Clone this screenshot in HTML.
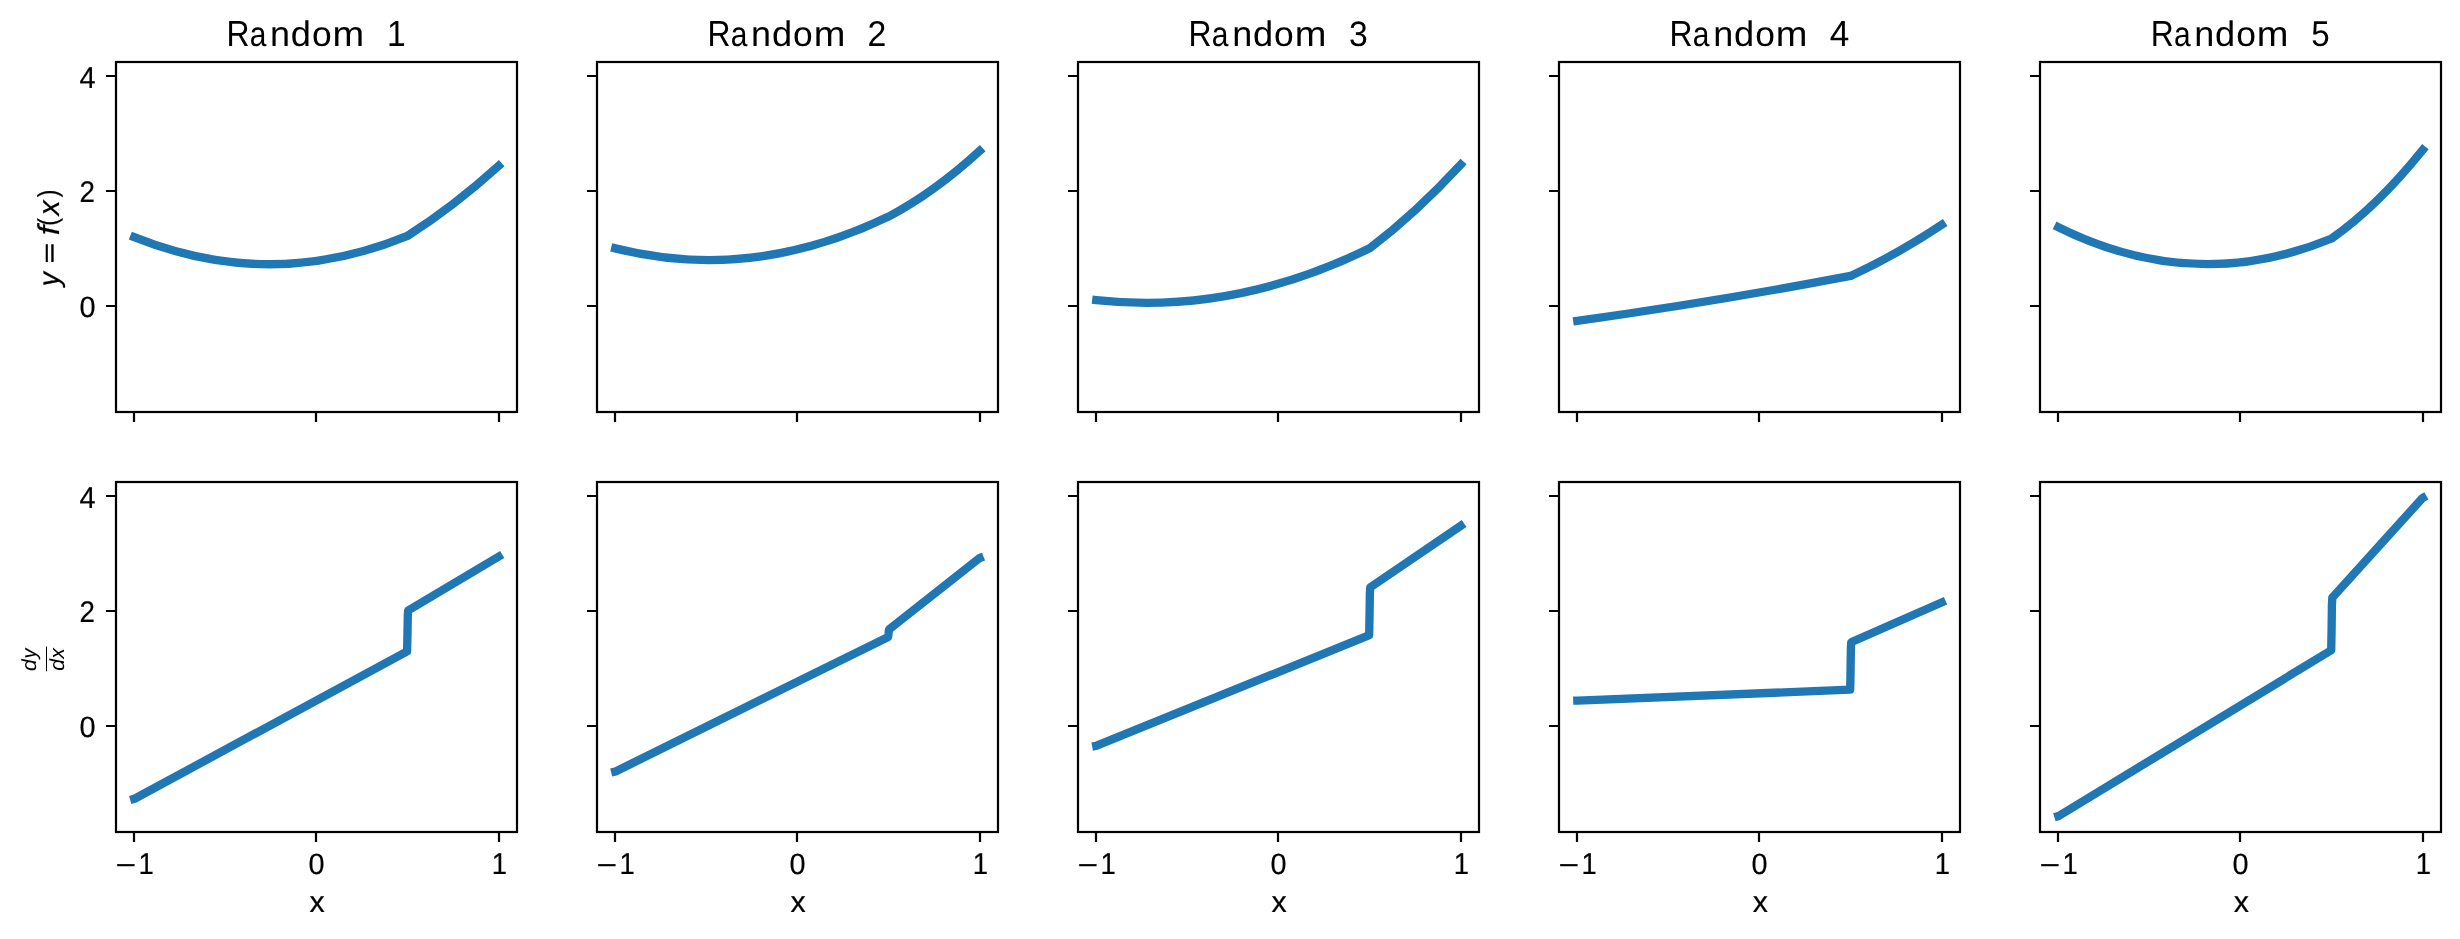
<!DOCTYPE html>
<html lang="en"><head><meta charset="utf-8"><title>Random piecewise functions and derivatives</title>
<style>html,body{margin:0;padding:0;background:#fff}svg{display:block;will-change:transform}text{font-family:"Liberation Sans",sans-serif;fill:#000;font-kerning:none;text-rendering:geometricPrecision;white-space:pre}.i{font-style:italic}.s{stroke:#000;stroke-width:.2px}.sp{fill:none;stroke:#000;stroke-width:2.222}.tk{stroke:#000;stroke-width:2.222;fill:none}.ln{fill:none;stroke:#1f77b4;stroke-width:8.333;stroke-linecap:square;stroke-linejoin:round}</style></head><body>
<svg width="2460" height="939" viewBox="0 0 2460 939">
<rect width="2460" height="939" fill="#fff"/>
<path class="ln" d="M134.21 237.16 Q270.86 291.94 407.52 235.86 Q453.07 207.1 498.63 165.9"/>
<path class="ln" d="M134.21 798.85 L134.57 798.75 L406.7 651.56 L407.07 651.36 L407.43 636.06 L407.8 615.72 L408.16 610.47 L408.53 610.25 L498.63 556.6"/>
<path class="ln" d="M615.24 248.37 Q751.9 282.67 888.56 216.61 Q934.11 192.59 979.66 150.89"/>
<path class="ln" d="M615.24 771.53 L615.61 771.44 L887.74 637.14 L888.1 636.96 L888.47 634.18 L888.83 630.48 L889.19 629.33 L889.56 629.04 L979.3 558.22 L979.66 558.08"/>
<path class="ln" d="M1096.28 300.14 Q1232.93 315.11 1369.59 248.33 Q1415.14 213.82 1460.7 164.55"/>
<path class="ln" d="M1096.28 745.78 L1096.64 745.71 L1368.77 635.34 L1369.14 635.2 L1369.5 617.35 L1369.86 593.55 L1370.23 587.41 L1370.59 587.16 L1460.7 525.84"/>
<path class="ln" d="M1577.31 320.85 Q1713.97 301.87 1850.63 275.95 Q1896.18 255.1 1941.73 224.83"/>
<path class="ln" d="M1577.31 700.58 L1577.68 700.57 L1849.8 689.69 L1850.17 689.67 L1850.53 671.95 L1850.9 648.26 L1851.26 642.21 L1851.63 642.05 L1941.73 602.48"/>
<path class="ln" d="M2058.35 227.2 Q2195 294.94 2331.66 238.51 Q2377.21 206.63 2422.76 149.93"/>
<path class="ln" d="M2058.35 816.09 L2058.71 815.98 L2330.84 650.47 L2331.2 650.24 L2331.57 630.65 L2331.93 604.51 L2332.3 597.66 L2332.66 597.26 L2422.4 498.11 L2422.76 497.91"/>
<path class="tk" d="M134 412v10M316 412v10M499 412v10M116 76h-10M116 191h-10M116 306h-10"/>
<rect class="sp" x="116" y="62" width="401" height="350"/>
<path class="tk" d="M615 412v10M797 412v10M980 412v10M597 76h-10M597 191h-10M597 306h-10"/>
<rect class="sp" x="597" y="62" width="401" height="350"/>
<path class="tk" d="M1096 412v10M1278 412v10M1461 412v10M1078 76h-10M1078 191h-10M1078 306h-10"/>
<rect class="sp" x="1078" y="62" width="401" height="350"/>
<path class="tk" d="M1577 412v10M1759 412v10M1942 412v10M1559 76h-10M1559 191h-10M1559 306h-10"/>
<rect class="sp" x="1559" y="62" width="401" height="350"/>
<path class="tk" d="M2058 412v10M2240 412v10M2423 412v10M2040 76h-10M2040 191h-10M2040 306h-10"/>
<rect class="sp" x="2040" y="62" width="401" height="350"/>
<path class="tk" d="M134 832v10M316 832v10M499 832v10M116 496h-10M116 611h-10M116 726h-10"/>
<rect class="sp" x="116" y="482" width="401" height="350"/>
<path class="tk" d="M615 832v10M797 832v10M980 832v10M597 496h-10M597 611h-10M597 726h-10"/>
<rect class="sp" x="597" y="482" width="401" height="350"/>
<path class="tk" d="M1096 832v10M1278 832v10M1461 832v10M1078 496h-10M1078 611h-10M1078 726h-10"/>
<rect class="sp" x="1078" y="482" width="401" height="350"/>
<path class="tk" d="M1577 832v10M1759 832v10M1942 832v10M1559 496h-10M1559 611h-10M1559 726h-10"/>
<rect class="sp" x="1559" y="482" width="401" height="350"/>
<path class="tk" d="M2058 832v10M2240 832v10M2423 832v10M2040 496h-10M2040 611h-10M2040 726h-10"/>
<rect class="sp" x="2040" y="482" width="401" height="350"/>
<text><tspan x="226.51" y="46.2" font-size="36.34" textLength="23.02" lengthAdjust="spacingAndGlyphs">R</tspan><tspan x="249.74" y="45.86" font-size="34.68" textLength="16.67" lengthAdjust="spacingAndGlyphs">a</tspan><tspan x="270.08" y="46.2" font-size="35.31" textLength="19.99" lengthAdjust="spacingAndGlyphs">n</tspan><tspan x="290.88" y="45.85" font-size="35.4" textLength="20.15" lengthAdjust="spacingAndGlyphs">d</tspan><tspan x="312.07" y="45.86" font-size="34.68" textLength="19.71" lengthAdjust="spacingAndGlyphs">o</tspan><tspan x="332.62" y="46.2" font-size="35.31" textLength="31.64" lengthAdjust="spacingAndGlyphs">m</tspan>  <tspan x="386.88" y="46.2" font-size="36.34" textLength="18.66" lengthAdjust="spacingAndGlyphs">1</tspan></text>
<text><tspan x="707.54" y="46.2" font-size="36.34" textLength="23.02" lengthAdjust="spacingAndGlyphs">R</tspan><tspan x="730.77" y="45.86" font-size="34.68" textLength="16.67" lengthAdjust="spacingAndGlyphs">a</tspan><tspan x="751.11" y="46.2" font-size="35.31" textLength="19.99" lengthAdjust="spacingAndGlyphs">n</tspan><tspan x="771.92" y="45.85" font-size="35.4" textLength="20.15" lengthAdjust="spacingAndGlyphs">d</tspan><tspan x="793.11" y="45.86" font-size="34.68" textLength="19.71" lengthAdjust="spacingAndGlyphs">o</tspan><tspan x="813.65" y="46.2" font-size="35.31" textLength="31.64" lengthAdjust="spacingAndGlyphs">m</tspan>  <tspan x="867.55" y="46.2" font-size="35.8" textLength="18.84" lengthAdjust="spacingAndGlyphs">2</tspan></text>
<text><tspan x="1188.58" y="46.2" font-size="36.34" textLength="23.02" lengthAdjust="spacingAndGlyphs">R</tspan><tspan x="1211.81" y="45.86" font-size="34.68" textLength="16.67" lengthAdjust="spacingAndGlyphs">a</tspan><tspan x="1232.15" y="46.2" font-size="35.31" textLength="19.99" lengthAdjust="spacingAndGlyphs">n</tspan><tspan x="1252.95" y="45.85" font-size="35.4" textLength="20.15" lengthAdjust="spacingAndGlyphs">d</tspan><tspan x="1274.14" y="45.86" font-size="34.68" textLength="19.71" lengthAdjust="spacingAndGlyphs">o</tspan><tspan x="1294.69" y="46.2" font-size="35.31" textLength="31.64" lengthAdjust="spacingAndGlyphs">m</tspan>  <tspan x="1349.1" y="45.86" font-size="35.31" textLength="18.77" lengthAdjust="spacingAndGlyphs">3</tspan></text>
<text><tspan x="1669.61" y="46.2" font-size="36.34" textLength="23.02" lengthAdjust="spacingAndGlyphs">R</tspan><tspan x="1692.84" y="45.86" font-size="34.68" textLength="16.67" lengthAdjust="spacingAndGlyphs">a</tspan><tspan x="1713.18" y="46.2" font-size="35.31" textLength="19.99" lengthAdjust="spacingAndGlyphs">n</tspan><tspan x="1733.98" y="45.85" font-size="35.4" textLength="20.15" lengthAdjust="spacingAndGlyphs">d</tspan><tspan x="1755.18" y="45.86" font-size="34.68" textLength="19.71" lengthAdjust="spacingAndGlyphs">o</tspan><tspan x="1775.72" y="46.2" font-size="35.31" textLength="31.64" lengthAdjust="spacingAndGlyphs">m</tspan>  <tspan x="1829.7" y="46.2" font-size="36.34" textLength="19.54" lengthAdjust="spacingAndGlyphs">4</tspan></text>
<text><tspan x="2150.64" y="46.2" font-size="36.34" textLength="23.02" lengthAdjust="spacingAndGlyphs">R</tspan><tspan x="2173.88" y="45.86" font-size="34.68" textLength="16.67" lengthAdjust="spacingAndGlyphs">a</tspan><tspan x="2194.22" y="46.2" font-size="35.31" textLength="19.99" lengthAdjust="spacingAndGlyphs">n</tspan><tspan x="2215.02" y="45.85" font-size="35.4" textLength="20.15" lengthAdjust="spacingAndGlyphs">d</tspan><tspan x="2236.21" y="45.86" font-size="34.68" textLength="19.71" lengthAdjust="spacingAndGlyphs">o</tspan><tspan x="2256.76" y="46.2" font-size="35.31" textLength="31.64" lengthAdjust="spacingAndGlyphs">m</tspan>  <tspan x="2311.16" y="45.85" font-size="35.83" textLength="18.44" lengthAdjust="spacingAndGlyphs">5</tspan></text>
<text class="s"><tspan x="79.52" y="88.1" font-size="30.23" textLength="16.07" lengthAdjust="spacingAndGlyphs">4</tspan></text>
<text class="s"><tspan x="79.46" y="202.1" font-size="29.79" textLength="15.45" lengthAdjust="spacingAndGlyphs">2</tspan></text>
<text class="s"><tspan x="79.53" y="316.81" font-size="29.38" textLength="16.05" lengthAdjust="spacingAndGlyphs">0</tspan></text>
<text class="s"><tspan x="79.52" y="508.1" font-size="30.23" textLength="16.07" lengthAdjust="spacingAndGlyphs">4</tspan></text>
<text class="s"><tspan x="79.46" y="622.1" font-size="29.79" textLength="15.45" lengthAdjust="spacingAndGlyphs">2</tspan></text>
<text class="s"><tspan x="79.53" y="736.81" font-size="29.38" textLength="16.05" lengthAdjust="spacingAndGlyphs">0</tspan></text>
<text class="s"><tspan x="115.42" y="875.18" font-size="29.54" textLength="20.66" lengthAdjust="spacingAndGlyphs">−</tspan><tspan x="138.46" y="874.1" font-size="30.23" textLength="15.3" lengthAdjust="spacingAndGlyphs">1</tspan></text>
<text class="s"><tspan x="308.57" y="873.81" font-size="29.38" textLength="16.05" lengthAdjust="spacingAndGlyphs">0</tspan></text>
<text class="s"><tspan x="491.82" y="874.1" font-size="30.23" textLength="15.3" lengthAdjust="spacingAndGlyphs">1</tspan></text>
<text class="s"><tspan x="309.56" y="912.1" font-size="29.91" textLength="15.2" lengthAdjust="spacingAndGlyphs">x</tspan></text>
<text class="s"><tspan x="596.42" y="875.18" font-size="29.54" textLength="20.66" lengthAdjust="spacingAndGlyphs">−</tspan><tspan x="619.46" y="874.1" font-size="30.23" textLength="15.3" lengthAdjust="spacingAndGlyphs">1</tspan></text>
<text class="s"><tspan x="789.57" y="873.81" font-size="29.38" textLength="16.05" lengthAdjust="spacingAndGlyphs">0</tspan></text>
<text class="s"><tspan x="972.82" y="874.1" font-size="30.23" textLength="15.3" lengthAdjust="spacingAndGlyphs">1</tspan></text>
<text class="s"><tspan x="790.59" y="912.1" font-size="29.91" textLength="15.2" lengthAdjust="spacingAndGlyphs">x</tspan></text>
<text class="s"><tspan x="1077.42" y="875.18" font-size="29.54" textLength="20.66" lengthAdjust="spacingAndGlyphs">−</tspan><tspan x="1100.46" y="874.1" font-size="30.23" textLength="15.3" lengthAdjust="spacingAndGlyphs">1</tspan></text>
<text class="s"><tspan x="1270.57" y="873.81" font-size="29.38" textLength="16.05" lengthAdjust="spacingAndGlyphs">0</tspan></text>
<text class="s"><tspan x="1453.82" y="874.1" font-size="30.23" textLength="15.3" lengthAdjust="spacingAndGlyphs">1</tspan></text>
<text class="s"><tspan x="1271.63" y="912.1" font-size="29.91" textLength="15.2" lengthAdjust="spacingAndGlyphs">x</tspan></text>
<text class="s"><tspan x="1558.42" y="875.18" font-size="29.54" textLength="20.66" lengthAdjust="spacingAndGlyphs">−</tspan><tspan x="1581.46" y="874.1" font-size="30.23" textLength="15.3" lengthAdjust="spacingAndGlyphs">1</tspan></text>
<text class="s"><tspan x="1751.57" y="873.81" font-size="29.38" textLength="16.05" lengthAdjust="spacingAndGlyphs">0</tspan></text>
<text class="s"><tspan x="1934.82" y="874.1" font-size="30.23" textLength="15.3" lengthAdjust="spacingAndGlyphs">1</tspan></text>
<text class="s"><tspan x="1752.66" y="912.1" font-size="29.91" textLength="15.2" lengthAdjust="spacingAndGlyphs">x</tspan></text>
<text class="s"><tspan x="2039.42" y="875.18" font-size="29.54" textLength="20.66" lengthAdjust="spacingAndGlyphs">−</tspan><tspan x="2062.46" y="874.1" font-size="30.23" textLength="15.3" lengthAdjust="spacingAndGlyphs">1</tspan></text>
<text class="s"><tspan x="2232.57" y="873.81" font-size="29.38" textLength="16.05" lengthAdjust="spacingAndGlyphs">0</tspan></text>
<text class="s"><tspan x="2415.82" y="874.1" font-size="30.23" textLength="15.3" lengthAdjust="spacingAndGlyphs">1</tspan></text>
<text class="s"><tspan x="2233.69" y="912.1" font-size="29.91" textLength="15.2" lengthAdjust="spacingAndGlyphs">x</tspan></text>
<g transform="translate(59 287.3) rotate(-90)"><text class="s"><tspan class="i" x="1.02" y="-0.41" font-size="29.32" textLength="14.2" lengthAdjust="spacingAndGlyphs">y</tspan><tspan x="23.99" y="-1.69" font-size="22.46" textLength="20.18" lengthAdjust="spacingAndGlyphs" stroke="#000" stroke-width="0.6">=</tspan><tspan class="i" x="51.96" y="-0.1" font-size="30.09" textLength="9.41" lengthAdjust="spacingAndGlyphs">f</tspan><tspan x="61.57" y="-2.1" font-size="27.33" textLength="7.57" lengthAdjust="spacingAndGlyphs">(</tspan><tspan class="i" x="71.92" y="-0.1" font-size="29.91" textLength="15.1" lengthAdjust="spacingAndGlyphs">x</tspan><tspan x="89.96" y="-2.1" font-size="27.33" textLength="7.57" lengthAdjust="spacingAndGlyphs">)</tspan></text></g>
<g transform="translate(46.5 671.5) rotate(-90)"><text><tspan class="i" x="0.48" y="-10.81" font-size="20.41" textLength="11.69" lengthAdjust="spacingAndGlyphs">d</tspan><tspan class="i" x="12.9" y="-10.8" font-size="20.45" textLength="10.06" lengthAdjust="spacingAndGlyphs">y</tspan></text><path d="M0.2 0H25" stroke="#000" stroke-width="1"/><text><tspan class="i" x="0.78" y="17.39" font-size="20.41" textLength="11.69" lengthAdjust="spacingAndGlyphs">d</tspan><tspan class="i" x="12.7" y="17.6" font-size="20.82" textLength="10.69" lengthAdjust="spacingAndGlyphs">x</tspan></text></g>
</svg></body></html>
